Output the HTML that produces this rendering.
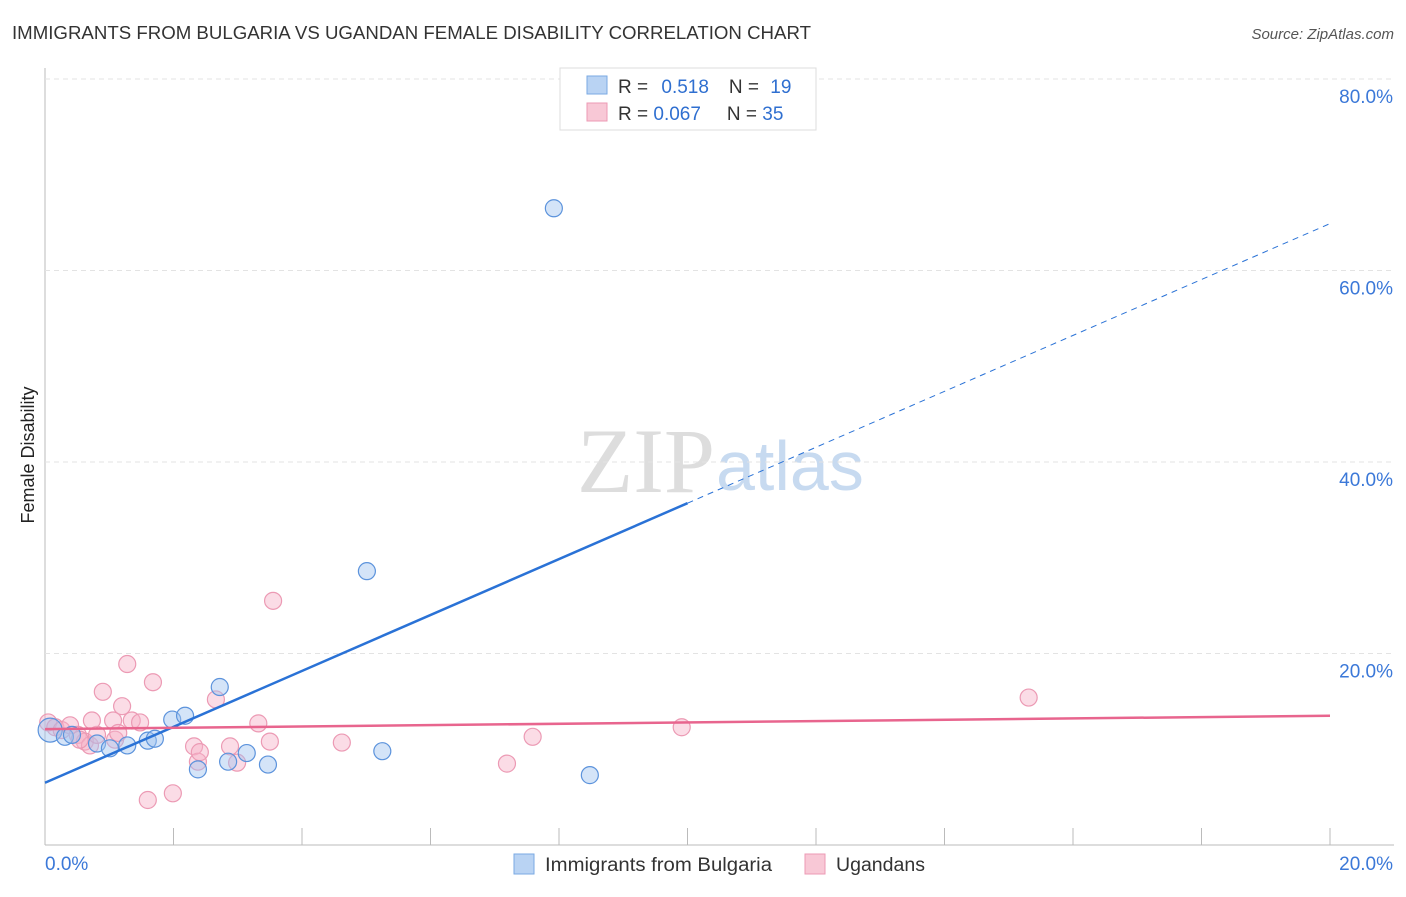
<!DOCTYPE html>
<html><head><meta charset="utf-8"><style>
body{margin:0;background:#fff;font-family:"Liberation Sans",sans-serif}
</style></head><body>
<svg id="c" width="1406" height="892" xmlns="http://www.w3.org/2000/svg">
<text x="12" y="39" font-size="18" fill="#333" textLength="799" lengthAdjust="spacingAndGlyphs">IMMIGRANTS FROM BULGARIA VS UGANDAN FEMALE DISABILITY CORRELATION CHART</text>
<text x="1394" y="39" font-size="15" fill="#555" font-style="italic" text-anchor="end">Source: ZipAtlas.com</text>
<text x="715" y="492" font-size="92" font-family="Liberation Serif" fill="#ddd" text-anchor="end">ZIP</text>
<text x="716" y="490" font-size="70" fill="#c7daf0">atlas</text>
<text transform="translate(34,455) rotate(-90)" font-size="18" fill="#222" text-anchor="middle">Female Disability</text>
<g id="grid"></g><g id="marks"></g>
<g>
<rect x="560" y="68" width="256" height="62" fill="#fff" stroke="#ddd"/>
<rect x="587" y="76" width="20" height="18" fill="#b9d3f3" stroke="#7aa9e3"/>
<rect x="587" y="103" width="20" height="18" fill="#f8c8d6" stroke="#ec9ab4"/>
<text x="618" y="93" font-size="19" fill="#333">R = <tspan fill="#2f6fd0" dx="8">0.518</tspan><tspan dx="20" fill="#333">N = </tspan><tspan fill="#2f6fd0" dx="6">19</tspan></text>
<text x="618" y="120" font-size="19" fill="#333">R = <tspan fill="#2f6fd0">0.067</tspan><tspan dx="26" fill="#333">N = </tspan><tspan fill="#2f6fd0">35</tspan></text>
</g>
<g>
<rect x="514" y="854" width="20" height="20" fill="#b9d3f3" stroke="#7aa9e3"/>
<text x="545" y="871" font-size="19" fill="#333" textLength="227" lengthAdjust="spacingAndGlyphs">Immigrants from Bulgaria</text>
<rect x="805" y="854" width="20" height="20" fill="#f8c8d6" stroke="#ec9ab4"/>
<text x="836" y="871" font-size="19" fill="#333" textLength="89" lengthAdjust="spacingAndGlyphs">Ugandans</text>
</g>
</svg>
<script>
const yTicks=[20,40,60,80];
const yTickLabels=["20.0%","40.0%","60.0%","80.0%"];
const xTickLabels=["0.0%","20.0%"];
const blueX=[0.08,0.31,0.42,0.81,1.01,1.28,1.60,1.71,1.98,2.18,2.38,2.72,2.85,3.14,3.47,5.01,5.25,7.92,8.48];
const blueY=[12.0,11.3,11.5,10.6,10.1,10.4,10.9,11.1,13.1,13.5,7.9,16.5,8.7,9.6,8.4,28.6,9.8,66.5,7.3];
const pinkX=[0.05,0.16,0.26,0.39,0.51,0.62,0.70,0.81,0.90,0.73,1.06,1.09,1.20,1.28,1.35,1.60,1.68,1.99,2.32,2.38,2.41,2.66,2.88,2.99,3.32,3.50,3.55,4.62,7.19,7.59,9.91,15.31,1.14,0.54,1.48];
const pinkY=[12.8,12.3,12.0,12.5,11.5,10.8,10.4,11.5,16.0,13.0,13.0,11.0,14.5,18.9,13.0,4.7,17.0,5.4,10.3,8.7,9.7,15.2,10.3,8.6,12.7,10.8,25.5,10.7,8.5,11.3,12.3,15.4,11.7,11.0,12.8];
const blueTrend=[6.5,64.9];
const pinkTrend=[12.1,13.5];
const X=v=>45+v/20*1285, Y=v=>845-v/20*191.5;
const NS="http://www.w3.org/2000/svg";
function mk(t,a,p){const e=document.createElementNS(NS,t);for(const k in a)e.setAttribute(k,a[k]);p.appendChild(e);return e;}
const g=document.getElementById('grid'),m=document.getElementById('marks');
let ax=mk('line',{x1:45,y1:68,x2:45,y2:845,stroke:'#bbb'},g);


let bx=mk('line',{x1:45,y1:845,x2:1394,y2:845,stroke:'#bbb'},g);


for(let i=1;i<=10;i++){const t=mk('line',{x1:X(i*2),x2:X(i*2),y1:828,y2:845,stroke:'#bbb'},g);

}
yTicks.forEach((v,i)=>{const l=mk('line',{x1:45,x2:1394,y1:Y(v),y2:Y(v),stroke:'#e3e3e3','stroke-dasharray':'5,4'},g);


const t=mk('text',{x:1393,y:Y(v)+24,'font-size':19,fill:'#3b78d8','text-anchor':'end'},g);t.textContent=yTickLabels[i];

});
[[0,45,'start'],[1,1393,'end']].forEach(([i,x,a])=>{const t=mk('text',{x:x,y:870,'font-size':19,fill:'#3b78d8','text-anchor':a},g);t.textContent=xTickLabels[i];

});
pinkX.forEach((v,i)=>{const c=mk('circle',{cx:X(v),cy:Y(pinkY[i]),r:8.5,fill:'rgba(246,178,200,0.45)',stroke:'#ec9ab4','stroke-width':1.2},m);

});
blueX.forEach((v,i)=>{const c=mk('circle',{cx:X(v),cy:Y(blueY[i]),r:i===0?12:8.5,fill:'rgba(160,196,240,0.45)',stroke:'#5c93dc','stroke-width':1.2},m);

});
const by=x=>blueTrend[0]+(blueTrend[1]-blueTrend[0])*x/20;
let l1=mk('line',{x1:X(0),y1:Y(by(0)),x2:X(10),y2:Y(by(10)),stroke:'#2a72d6','stroke-width':2.5},m);


let l2=mk('line',{x1:X(10),y1:Y(by(10)),x2:X(20),y2:Y(by(20)),stroke:'#2a72d6','stroke-width':1,'stroke-dasharray':'6,5'},m);


let l3=mk('line',{x1:X(0),y1:Y(pinkTrend[0]),x2:X(20),y2:Y(pinkTrend[1]),stroke:'#e8658e','stroke-width':2.5},m);


</script>
</body></html>
